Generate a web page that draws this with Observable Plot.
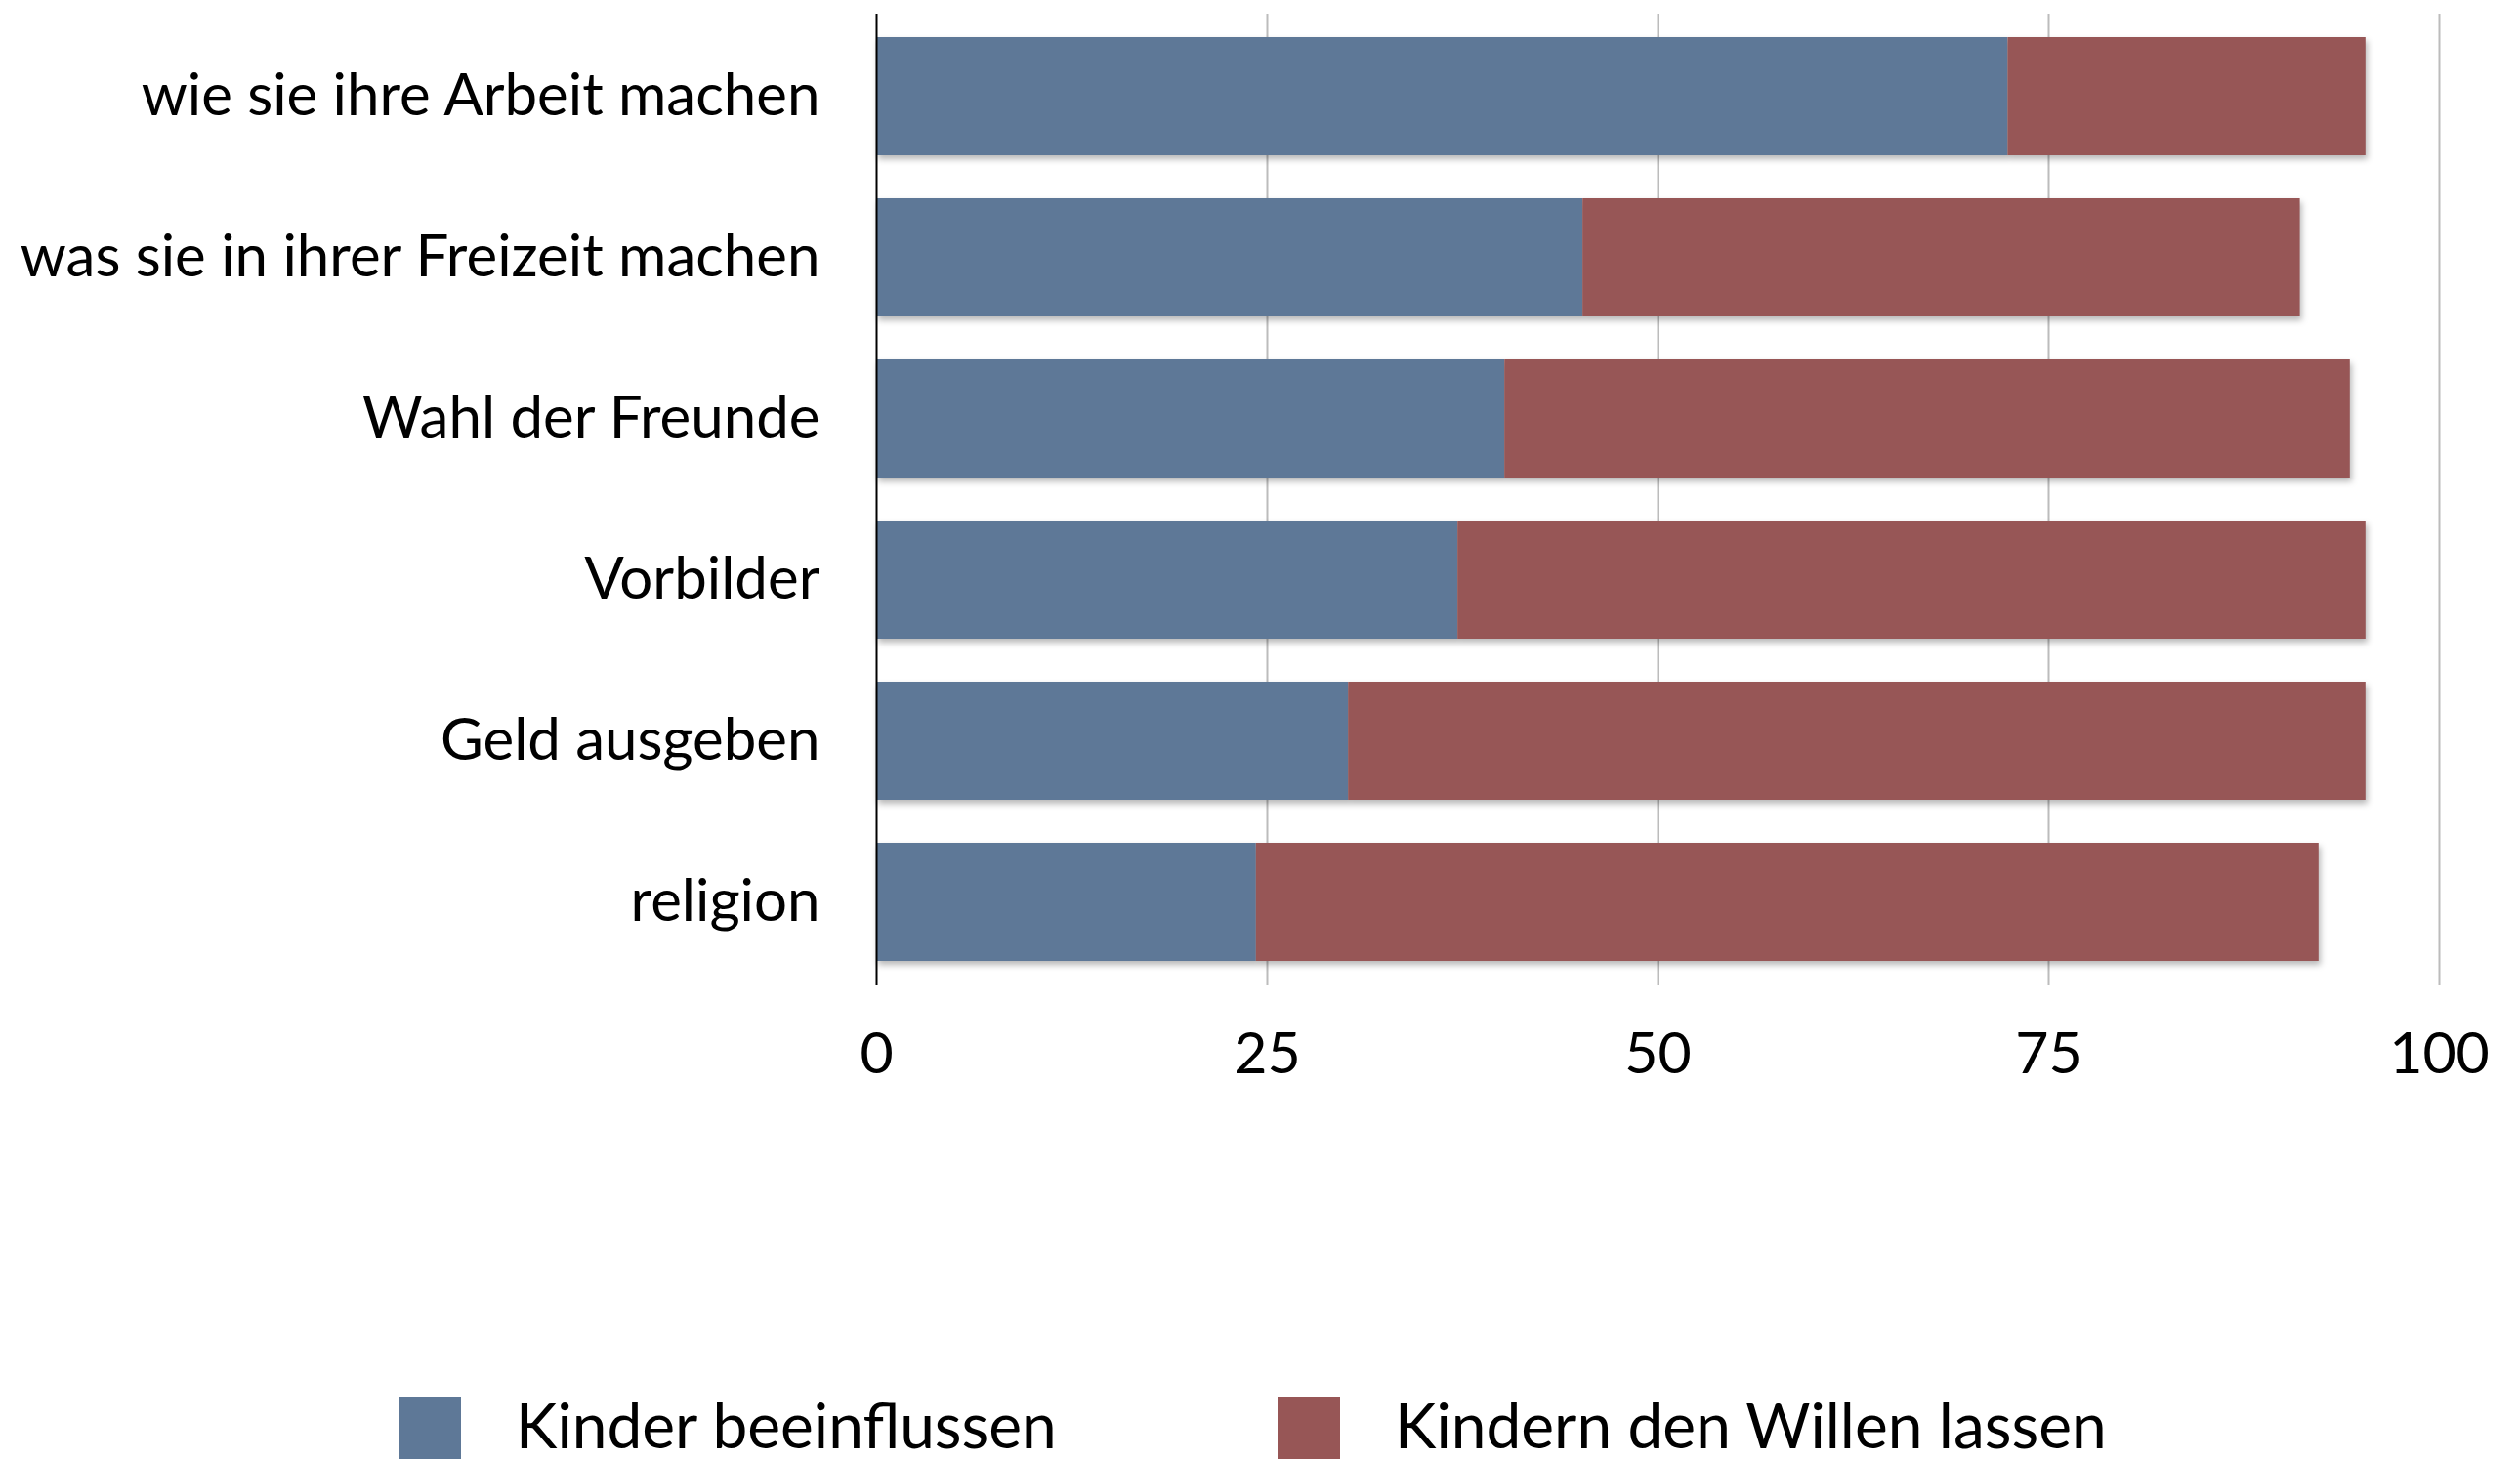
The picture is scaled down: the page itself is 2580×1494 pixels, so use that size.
<!DOCTYPE html>
<html>
<head>
<meta charset="utf-8">
<script src="https://cdn.jsdelivr.net/npm/d3@7"></script>
<script src="https://cdn.jsdelivr.net/npm/@observablehq/plot@0.6"></script>
<style>
  html, body { margin: 0; padding: 0; background: #fff; }
  body { width: 2580px; height: 1494px; overflow: hidden; font-family: "Lato", sans-serif; }
  #chart svg g[aria-label="bar"] { filter: drop-shadow(2px 4px 3px rgba(0,0,0,0.28)); }
  #legend { position: relative; height: 63px; margin-top: 11px; }
  .item { display: flex; align-items: flex-start; }
  .sw { width: 64px; height: 63px; }
  .lab { font-size: 64px; color: #000; margin-left: 56px; line-height: 64px; margin-top: -4px; white-space: nowrap; }
</style>
</head>
<body>
<div id="chart"></div>
<div id="legend"></div>
<script>
const categories = [
  "wie sie ihre Arbeit machen",
  "was sie in ihrer Freizeit machen",
  "Wahl der Freunde",
  "Vorbilder",
  "Geld ausgeben",
  "religion"
];
const seriesNames = ["Kinder beeinflussen", "Kindern den Willen lassen"];
const influence = [72.4, 45.2, 40.2, 37.2, 30.2, 24.3];
const letWill = [22.9, 45.9, 54.1, 58.1, 65.1, 68.0];
const xTicks = [0, 25, 50, 75, 100];
const colors = ["#5e7897", "#975656"];

const table = [];
categories.forEach((c, i) => {
  table.push({cat: c, series: seriesNames[0], value: influence[i]});
  table.push({cat: c, series: seriesNames[1], value: letWill[i]});
});

const chart = Plot.plot({
  width: 2580,
  height: 1420,
  marginLeft: 897,
  marginRight: 83,
  marginTop: 14,
  marginBottom: 411,
  style: {fontFamily: "Lato, sans-serif", fontSize: "60px", color: "#000", background: "#fff"},
  x: {domain: [0, 100]},
  y: {domain: categories, paddingInner: 0.265, paddingOuter: 0.1325},
  color: {domain: seriesNames, range: colors},
  marks: [
    Plot.gridX(xTicks.slice(1), {stroke: "#bcbcbc", strokeOpacity: 1, strokeWidth: 2}),
    Plot.barX(table, {x: "value", y: "cat", fill: "series", order: null}),
    Plot.ruleX([0], {stroke: "#000", strokeWidth: 2}),
    Plot.axisX({ticks: xTicks, tickSize: 0, tickPadding: 48, label: null, fontSize: 59}),
    Plot.axisY({tickSize: 0, tickPadding: 58, label: null, fontSize: 60})
  ]
});
document.getElementById("chart").appendChild(chart);

const legend = document.getElementById("legend");
const lefts = [408, 1308];
seriesNames.forEach((s, i) => {
  const it = document.createElement("div");
  it.className = "item";
  it.style.position = "absolute";
  it.style.top = "0px";
  it.style.left = lefts[i] + "px";
  const sw = document.createElement("div");
  sw.className = "sw";
  sw.style.background = colors[i];
  const lab = document.createElement("div");
  lab.className = "lab";
  lab.textContent = s;
  it.appendChild(sw);
  it.appendChild(lab);
  legend.appendChild(it);
});
</script>
</body>
</html>
